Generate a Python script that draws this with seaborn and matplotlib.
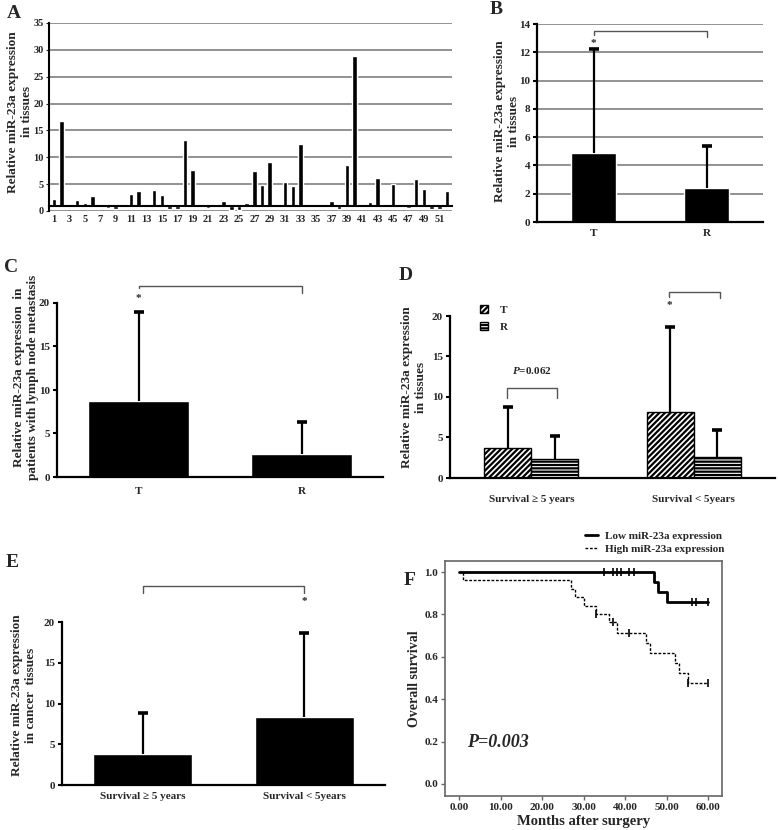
import numpy as np
import pandas as pd
import matplotlib
matplotlib.use('Agg')
import matplotlib.pyplot as plt
import seaborn as sns
from matplotlib.patches import Patch
from matplotlib.lines import Line2D

# A: relative expression per tissue pair (bars hang from baseline 1)
sample_ids = list(range(1, 53))
sample_expr = [2.2, 16.8, 1.3, 2.1, 1.4, 2.8, 1.1, 0.6, 0.4, 1.1,
               3.2, 3.7, 0.7, 4.0, 2.9, 0.3, 0.4, 13.2, 7.7, 1.2,
               0.5, 1.2, 1.9, 0.1, 0.2, 1.5, 7.5, 4.9, 9.2, 0.8,
               5.4, 4.7, 12.5, 1.1, 1.1, 1.2, 1.9, 0.3, 8.5, 28.9,
               0.8, 1.7, 6.2, 0.9, 5.1, 1.1, 0.5, 6.0, 4.1, 0.3,
               0.4, 3.8]

# B: tumour vs remote tissue
tissue_groups = ['T', 'R']
b_mean = [4.9, 2.4]
b_upper = [12.2, 5.4]

# C: patients with lymph node metastasis
c_mean = [8.7, 2.7]
c_upper = [19.0, 6.3]

# D: by survival group and tissue
survival_groups = ['Survival \u2265 5 years', 'Survival < 5years']
d_t_mean = [3.7, 8.2]
d_t_upper = [8.8, 18.7]
d_r_mean = [2.4, 2.6]
d_r_upper = [5.2, 5.9]

# E: cancer tissues by survival group
e_mean = [3.8, 8.3]
e_upper = [8.8, 18.7]

# F: Kaplan-Meier steps
low_times = [0, 47, 48, 50, 60]
low_surv = [1.0, 0.952, 0.905, 0.857, 0.857]
low_censor = [35, 37, 38, 39, 41, 42, 56, 57, 60]
high_times = [0, 1, 27, 28, 30, 33, 36, 38, 45, 46, 52, 53, 55, 60]
high_surv = [1.0, 0.96, 0.92, 0.88, 0.84, 0.80, 0.762, 0.714, 0.667, 0.619, 0.571, 0.524, 0.476, 0.476]
high_censor = [33, 37, 41, 55, 60]

sns.set_style('white')
plt.rcParams['font.family'] = ['Liberation Serif', 'DejaVu Serif']
plt.rcParams['font.weight'] = 'bold'
plt.rcParams['axes.labelweight'] = 'bold'
plt.rcParams['hatch.linewidth'] = 1.6
plt.rcParams['mathtext.fontset'] = 'custom'
plt.rcParams['mathtext.it'] = 'Liberation Serif:italic:bold'
plt.rcParams['mathtext.rm'] = 'Liberation Serif:bold'

W, H = 778, 830
fig = plt.figure(figsize=(W / 100, H / 100), dpi=100)

YLAB = 9.5


def box(l, t, r, b):
    return fig.add_axes([l / W, 1 - b / H, (r - l) / W, (b - t) / H])


def letter(x, y, s):
    fig.text(x / W, 1 - y / H, s, fontsize=14, fontweight='bold', ha='center', va='center')


def bracket(ax, x0, x1, y, y0, y1):
    ax.plot([x0, x0, x1, x1], [y0, y, y, y1], color='#555555', lw=1, clip_on=False)


def up_err(ax, xs, means, uppers):
    # one-sided error bar, cap on top only
    ax.vlines(xs, means, uppers, color='black', lw=1.6, zorder=3)
    ax.plot(xs, uppers, ls='none', marker='_', ms=7, mew=2.6, color='black', zorder=3)


def bar_style(ax, pad):
    for s in ['top', 'right']:
        ax.spines[s].set_visible(False)
    for s in ['left', 'bottom']:
        ax.spines[s].set_color('black')
        ax.spines[s].set_linewidth(1.6)
    ax.set_xlabel('')
    ax.set_xticks([0.5, 1.5], minor=True)
    ax.tick_params(axis='x', which='major', length=0, pad=pad, labelsize=8)
    ax.tick_params(axis='x', which='minor', direction='in', length=6, width=1.5, color='black')
    ax.tick_params(axis='y', which='major', direction='out', length=3, width=1.5, color='black',
                   left=True, labelsize=8, pad=2)


# ---------- A ----------
axA = box(49, 23, 452, 211)
axA.bar(sample_ids, np.array(sample_expr) - 1, bottom=1, width=0.6, color='black')
axA.set_xlim(0.35, 52.65)
axA.set_ylim(0, 35)
axA.set_yticks(range(0, 36, 5))
axA.grid(axis='y', color='#7f7f7f', lw=1.2)
axA.set_axisbelow(True)
for s in ['top', 'right']:
    axA.spines[s].set_visible(False)
axA.spines['left'].set_color('black')
axA.spines['left'].set_linewidth(1.5)
axA.spines['bottom'].set_position(('data', 1))
axA.spines['bottom'].set_color('black')
axA.spines['bottom'].set_linewidth(1.5)
axA.set_xticks(sample_ids[::2])
axA.set_xticks(np.arange(0.5, 53, 1), minor=True)
axA.tick_params(axis='x', which='major', length=0, pad=7, labelsize=7.5)
axA.tick_params(axis='x', which='minor', direction='in', length=3, width=1, color='black')
axA.tick_params(axis='y', length=2, labelsize=7.5, pad=2, left=True)
axA.set_ylabel('Relative miR-23a expression\nin tissues', fontsize=YLAB)
axA.yaxis.set_label_coords(-0.04, 0.527)
letter(14, 14, 'A')

# ---------- B ----------
axB = box(537, 24, 763, 222)
sns.barplot(x=tissue_groups, y=b_mean, color='black', saturation=1, width=0.4, ax=axB)
up_err(axB, [0, 1], b_mean, b_upper)
axB.set_xlim(-0.5, 1.5)
axB.set_ylim(0, 14)
axB.set_yticks(range(0, 15, 2))
axB.grid(axis='y', color='#7f7f7f', lw=1.2)
axB.set_axisbelow(True)
bar_style(axB, 5)
bracket(axB, 0, 1, 13.5, 13.2, 13.05)
axB.text(0, 12.3, '*', ha='center', va='bottom', fontsize=8)
axB.set_ylabel('Relative miR-23a expression\nin tissues', fontsize=YLAB)
axB.yaxis.set_label_coords(-0.075, 0.51)
letter(496, 9, 'B')

# ---------- C ----------
axC = box(57, 303, 383, 477)
sns.barplot(x=tissue_groups, y=c_mean, color='black', saturation=1, width=0.62, ax=axC)
up_err(axC, [0, 1], c_mean, c_upper)
axC.set_xlim(-0.5, 1.5)
axC.set_ylim(0, 20)
axC.set_yticks(range(0, 21, 5))
bar_style(axC, 7)
bracket(axC, 0, 1, 22.0, 21.7, 21.1)
axC.text(0, 20.0, '*', ha='center', va='bottom', fontsize=8, clip_on=False)
axC.set_ylabel('Relative miR-23a expression  in\npatients with lymph node metastasis', fontsize=YLAB)
axC.yaxis.set_label_coords(-0.055, 0.575)
letter(11, 267, 'C')

# ---------- D ----------
axD = box(450, 316, 775, 478)
d_df = pd.DataFrame({
    'group': survival_groups * 2,
    'tissue': ['T', 'T', 'R', 'R'],
    'value': d_t_mean + d_r_mean,
})
sns.barplot(data=d_df, x='group', y='value', hue='tissue', palette=['white', 'white'],
            saturation=1, width=0.58, edgecolor='black', linewidth=1, legend=False, ax=axD)
for cont, hatch, upper, mean in zip(axD.containers, ['//////', '-----'],
                                    [d_t_upper, d_r_upper], [d_t_mean, d_r_mean]):
    xs = []
    for p in cont.patches:
        p.set_hatch(hatch)
        xs.append(p.get_x() + p.get_width() / 2)
    up_err(axD, xs, mean, upper)
axD.set_xlim(-0.5, 1.5)
axD.set_ylim(0, 20)
axD.set_yticks(range(0, 21, 5))
bar_style(axD, 12)
bracket(axD, -0.15, 0.16, 11.1, 9.9, 9.9)
axD.text(0.005, 12.6, '$\\mathit{P}$=0.062', ha='center', va='bottom', fontsize=8)
bracket(axD, 0.85, 1.16, 23.0, 22.3, 22.2)
axD.text(0.85, 20.8, '*', ha='center', va='bottom', fontsize=8, clip_on=False)
handles = [Patch(facecolor='white', edgecolor='black', hatch='//////', label='T'),
           Patch(facecolor='white', edgecolor='black', hatch='-----', label='R')]
axD.legend(handles=handles, loc='upper left', bbox_to_anchor=(0.06, 1.13), frameon=False,
           fontsize=8, handlelength=0.8, handleheight=0.8, handletextpad=1.0, labelspacing=0.6)
axD.set_ylabel('Relative miR-23a expression\nin tissues', fontsize=YLAB)
axD.yaxis.set_label_coords(-0.071, 0.56)
letter(406, 275, 'D')

# ---------- E ----------
axE = box(62, 622, 385, 785)
sns.barplot(x=survival_groups, y=e_mean, color='black', saturation=1, width=0.61, ax=axE)
up_err(axE, [0, 1], e_mean, e_upper)
axE.set_xlim(-0.5, 1.5)
axE.set_ylim(0, 20)
axE.set_yticks(range(0, 21, 5))
bar_style(axE, 5)
bracket(axE, 0, 1, 24.4, 23.5, 23.5)
axE.text(1, 22.0, '*', ha='center', va='bottom', fontsize=8, clip_on=False)
axE.set_ylabel('Relative miR-23a expression\nin cancer  tissues', fontsize=YLAB)
axE.yaxis.set_label_coords(-0.077, 0.55)
letter(12, 562, 'E')

# ---------- F ----------
axF = box(445, 561, 722, 796)
sns.lineplot(x=low_times, y=low_surv, drawstyle='steps-post', estimator=None, sort=False,
             color='black', lw=2, ax=axF)
sns.lineplot(x=high_times, y=high_surv, drawstyle='steps-post', estimator=None, sort=False,
             color='black', lw=1, linestyle=(0, (2, 1.2)), ax=axF)


def surv_at(times, surv, c):
    idx = np.searchsorted(times, c, side='right') - 1
    return np.array(surv)[idx]


axF.scatter(low_censor, surv_at(low_times, low_surv, low_censor), marker='|', s=30,
            color='black', lw=1.2, zorder=3)
axF.scatter(high_censor, surv_at(high_times, high_surv, high_censor), marker='|', s=30,
            color='black', lw=1.2, zorder=3)
axF.set_xlim(-3.4, 63.3)
axF.set_ylim(-0.057, 1.052)
axF.set_xticks(range(0, 61, 10))
axF.set_xticklabels(['%.2f' % v for v in range(0, 61, 10)])
axF.set_yticks(np.arange(0, 1.01, 0.2))
axF.set_yticklabels(['%.1f' % v for v in np.arange(0, 1.01, 0.2)])
for s in axF.spines.values():
    s.set_color('#666666')
    s.set_linewidth(1.2)
axF.tick_params(axis='both', direction='out', length=3, width=1, color='#666666',
                labelsize=8, pad=2, left=True, bottom=True)
axF.set_xlabel('Months after surgery', fontsize=10.5, labelpad=2)
axF.set_ylabel('Overall survival', fontsize=10)
axF.yaxis.set_label_coords(-0.085, 0.5)
axF.text(2, 0.175, 'P=0.003', fontsize=13, fontweight='bold', fontstyle='italic', va='baseline')
leg_handles = [Line2D([], [], color='black', lw=2, label='Low miR-23a expression'),
               Line2D([], [], color='black', lw=1, linestyle=(0, (2, 1.2)), label='High miR-23a expression')]
axF.legend(handles=leg_handles, loc='lower left', bbox_to_anchor=(0.48, 1.0), frameon=False,
           fontsize=8, handlelength=1.2, handletextpad=0.6, labelspacing=0.3, borderaxespad=0.2)
letter(410, 580, 'F')

fig.savefig('out.png', dpi=100, facecolor='white')
